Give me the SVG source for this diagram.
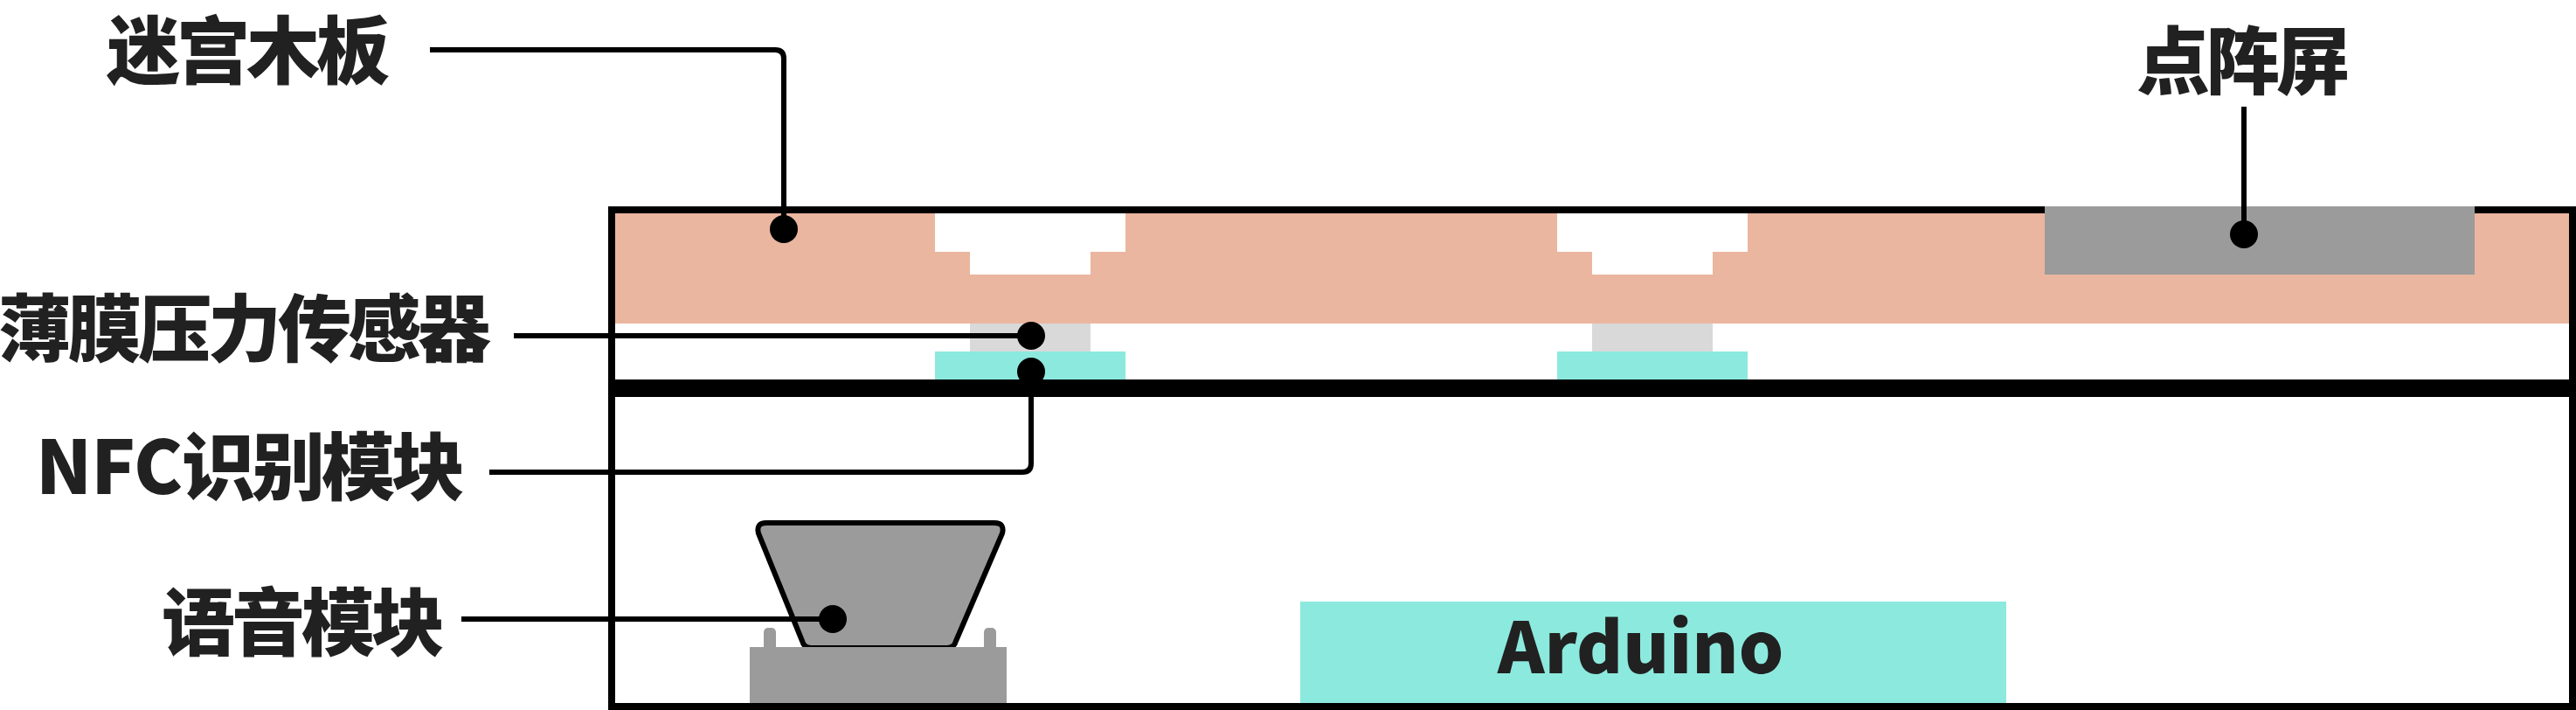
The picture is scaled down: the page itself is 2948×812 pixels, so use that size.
<svg xmlns="http://www.w3.org/2000/svg" width="2948" height="812" viewBox="0 0 2948 812">
<style>
.lbl{font-family:"Noto Sans CJK SC","Noto Sans",sans-serif;font-weight:900;font-size:84px;letter-spacing:-4px;fill:#212121}
.lat{letter-spacing:-1px}
.ar{font-family:"Noto Sans CJK SC","Noto Sans",sans-serif;font-weight:900;font-size:81px;fill:#212121}
.ln{fill:none;stroke:#000;stroke-width:6}
.dot{fill:#000}
.peach{fill:#EAB69F}
.gray{fill:#9B9B9B}
.lg{fill:#D9D9D9}
.teal{fill:#8CE9DE}
.blk{fill:#000}
</style>
<rect width="2948" height="812" fill="#fff"/>
<g id="enclosure">
<path class="peach" d="M704 244H1070V288H1110V314H1248V288H1288V244H1782V288H1822V314H1960V288H2000V244H2940V370H704Z"/>
<path class="blk" fill-rule="evenodd" d="M696 236H2948V812H696ZM704 244V434H2940V244ZM704 454V804H2940V454Z"/>
</g>
<g id="display"><rect class="gray" x="2340" y="236" width="492" height="78"/></g>
<g id="sensor-1"><rect class="lg" x="1110" y="370" width="138" height="32"/></g>
<g id="sensor-2"><rect class="lg" x="1822" y="370" width="138" height="32"/></g>
<g id="nfc-1"><rect class="teal" x="1070" y="402" width="218" height="32"/></g>
<g id="nfc-2"><rect class="teal" x="1782" y="402" width="218" height="32"/></g>
<g id="arduino"><rect class="teal" x="1488" y="688" width="808" height="116"/>
<text class="ar" x="1714" y="770">Arduino</text></g>
<g id="speaker">
<rect class="gray" x="874" y="718" width="14" height="30" rx="5"/>
<rect class="gray" x="1126" y="718" width="14" height="30" rx="5"/>
<path class="gray" stroke="#000" stroke-width="6" d="M877 598H1138Q1150 598 1147 610L1094 733Q1092 741 1084 741H928Q920 741 918 733L868 610Q865 598 877 598Z"/>
<rect class="gray" x="858" y="740" width="294" height="64"/>
</g>
<g id="labels">
<text id="label-maze" class="lbl" x="122" y="89">迷宫木板</text>
<text id="label-sensor" class="lbl" x="-2" y="407">薄膜压力传感器</text>
<text id="label-nfc" class="lbl" x="41" y="565"><tspan class="lat">NFC</tspan>识别模块</text>
<text id="label-voice" class="lbl" x="185" y="743">语音模块</text>
<text id="label-matrix" class="lbl" x="2445" y="101">点阵屏</text>
</g>
<g id="connectors">
<path class="ln" d="M492 57H887Q897 57 897 67V262"/>
<path class="ln" d="M588 384H1180"/>
<path class="ln" d="M560 540H1170Q1180 540 1180 530V425"/>
<path class="ln" d="M528 708H953"/>
<path class="ln" d="M2568 122V268"/>
<circle class="dot" cx="897" cy="262" r="16"/>
<circle class="dot" cx="1180" cy="384" r="16"/>
<circle class="dot" cx="1180" cy="425" r="16"/>
<circle class="dot" cx="953" cy="708" r="16"/>
<circle class="dot" cx="2568" cy="268" r="16"/>
</g>
</svg>
